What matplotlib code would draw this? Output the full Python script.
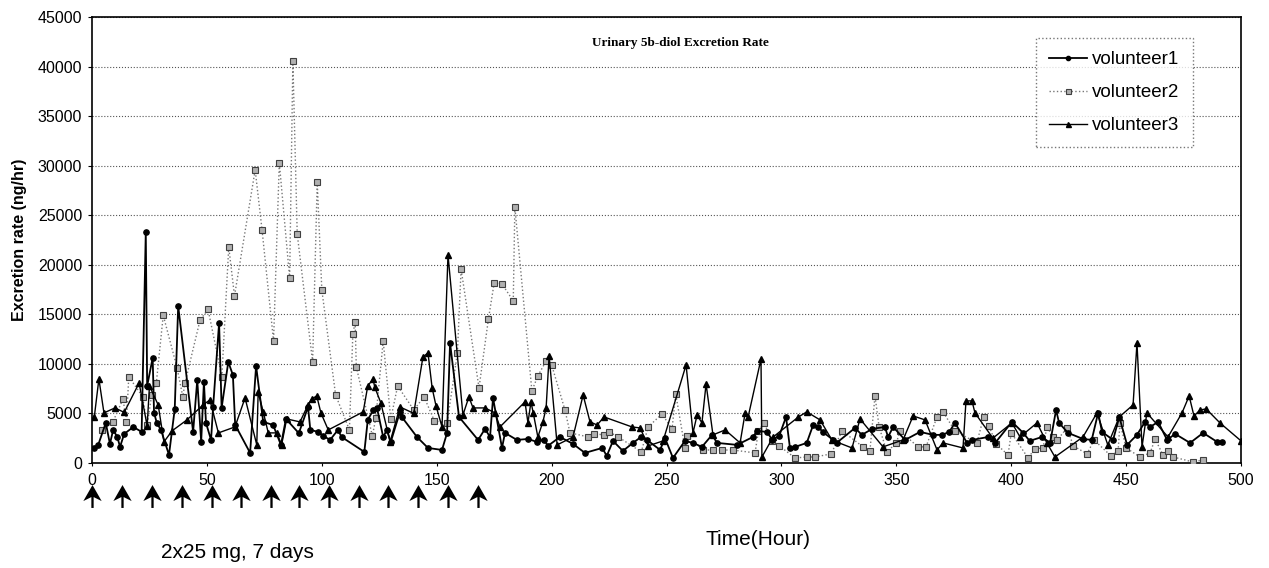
import numpy as np
import matplotlib.pyplot as plt
from matplotlib.path import Path

# volunteer 1 (filled circles, solid)
t1 = [1, 2.7, 6, 7.8, 9.2, 11, 12.2, 14, 18, 21.6, 23.4, 24, 26.4, 27, 28.2, 30, 33.5, 36, 37.5,
      44, 45.8, 47.5, 48.7, 49.6, 51.8, 52.7, 55.3, 56.4, 59.3, 61.3, 62.3, 68.8, 71.4, 74.5, 78.8,
      82.2, 84.4, 90, 94, 95, 98.5, 100.7, 103.6, 107, 108.6, 118.5, 120, 122.4, 124, 126.7, 128.3,
      130, 134, 134.8, 141.4, 146.2, 152.3, 154.5, 155.8, 159.7, 168, 171, 173.2, 174.5, 178.4,
      179.7, 184.9, 189.7, 193.6, 196.7, 198.4, 203.6, 209.3, 214.5, 222, 224, 226.7, 231, 235.4,
      238.9, 241.5, 247.2, 249.3, 252.8, 258, 261.5, 265.4, 269.8, 272, 280.7, 287.6, 289.4, 293.7,
      296, 299, 302, 303.7, 306, 311, 313.8, 316, 318, 322.5, 324, 332, 335, 339.4, 345, 346.4,
      348.6, 353.8, 360.3, 366, 369.9, 373, 375.5, 380.8, 383, 390, 393, 400.3, 405.2, 408, 413.4,
      416.9, 419.5, 420.8, 424.7, 431.2, 435, 437.8, 439.5, 444.3, 447, 450.4, 454.7, 458.2, 460.4,
      463.9, 467.8, 471.3, 477.8, 483.5, 489.6, 491.7]
v1 = [1510, 1820, 4040, 1920, 3330, 2620, 1620, 2930, 3630, 3130, 23300, 7770, 10600, 5050, 4040,
      3330, 810, 5450, 15840, 3130, 8370, 2120, 8170, 4040, 2320, 5650, 14130, 5550, 10190, 8880,
      3830, 1010, 9790, 4140, 3830, 1820, 4440, 3000, 5650, 3330, 3130, 2720, 2320, 3330, 2620,
      1110, 4340, 5350, 5550, 2620, 3330, 2120, 5150, 4640, 2620, 1510, 1310, 3030, 12110, 4640,
      2320, 3430, 2620, 6560, 1510, 3030, 2320, 2420, 2120, 2320, 1720, 2620, 1920, 1010, 1510,
      710, 2220, 1210, 2020, 2620, 2320, 1310, 2520, 500, 2220, 2020, 1620, 2830, 2020, 1820, 2620,
      3230, 3130, 2320, 2720, 4640, 1510, 1620, 2020, 3830, 3630, 3130, 2320, 2020, 3530, 2830,
      3430, 3630, 2620, 3630, 2320, 3130, 2830, 2830, 3130, 4040, 2020, 2320, 2620, 2020, 4140,
      3030, 2220, 2620, 2020, 5350, 4040, 3030, 2420, 2320, 5050, 3130, 2320, 4640, 1820, 2830,
      4140, 3630, 4140, 2320, 2930, 2020, 3030, 2120, 2120]

# volunteer 2 (grey squares, dotted)
t2 = [4.4, 9, 13.5, 15, 16, 22, 24, 26, 28, 31, 37, 39.5, 40.5, 47, 50.5, 56.5, 59.5, 62, 71, 74,
      79, 81.5, 86, 87.4, 89.3, 96, 98, 100, 106, 112, 113.5, 114.5, 115, 122, 123.5, 126.7, 130,
      133, 140, 144.5, 149, 154.5, 159, 160.6, 168.4, 172.5, 175, 178.4, 183.3, 184, 191.4, 194,
      197.6, 200, 205.8, 208, 216, 218.5, 223, 225, 229, 239, 242, 248, 252.4, 254, 258, 259, 266,
      270, 274, 279, 288.5, 290, 292.4, 296, 299, 306, 311, 314.6, 321.6, 326.4, 335.5, 338.5,
      340.7, 342.5, 345.9, 350, 351.6, 359.4, 362.9, 367.7, 370.3, 375.5, 385, 388, 390.3, 393.4,
      398.6, 400, 407.3, 410.3, 413.8, 415.5, 418.3, 420, 424.3, 427, 433, 436, 443.4, 446.5, 447.3,
      450, 456, 460.4, 462.6, 466, 468, 470.4, 479, 483.5]
v2 = [3330, 4100, 6450, 4150, 8700, 6700, 3800, 6900, 8100, 14900, 9600, 6700, 8100, 14400, 15500,
      8700, 21800, 16850, 29570, 23500, 12300, 30300, 18650, 40560, 23100, 10200, 28350, 17460,
      6860, 3330, 13000, 14230, 9690, 2720, 4540, 12310, 4440, 7770, 5350, 6660, 4240, 4040, 11100,
      19570, 7570, 14530, 18160, 18060, 16350, 25830, 7270, 8780, 10290, 9890, 5350, 3030, 2620,
      2930, 2830, 3130, 2620, 1110, 3630, 4940, 3430, 6960, 1510, 2720, 1310, 1300, 1300, 1300,
      1010, 3230, 4040, 2220, 1720, 500, 600, 600, 910, 3230, 1620, 1210, 6760, 3630, 1110, 2020,
      3230, 1620, 1620, 4640, 5150, 3230, 2020, 4640, 3730, 1920, 810, 3030, 500, 1410, 1510, 3630,
      2620, 2320, 3530, 1720, 910, 2320, 710, 1210, 4040, 1510, 600, 1010, 2420, 810, 1210, 600,
      100, 300]

# volunteer 3 (triangles, solid)
t3 = [1, 3, 5.2, 10, 14, 20.5, 24, 25, 28.8, 31.3, 34.8, 41.3, 48.3, 51.3, 55, 62.2, 66.6, 71.7,
      72.3, 74.5, 76.7, 80.4, 82.5, 84.7, 90.5, 94, 95.6, 97.8, 99.6, 102.8, 118, 120, 122.3, 123,
      125.7, 129.7, 134, 140, 144, 146.2, 148, 149.7, 152.3, 154.9, 161.4, 164, 165.8, 171, 175.4,
      177.5, 188.4, 189.7, 191, 192, 194, 196.2, 197.6, 198.9, 202.4, 209.3, 213.7, 216.7, 219.8,
      222.8, 235, 238.5, 242, 248.5, 258.5, 261.5, 263.3, 265.4, 267.2, 270.2, 275.5, 282, 284.2,
      285.5, 291.1, 291.5, 296.4, 307.4, 311, 316.8, 322, 330.7, 334.2, 344.2, 352.9, 357.3, 362.5,
      367.7, 370.3, 379, 380.3, 382.9, 384.2, 392, 400.3, 403.8, 411.2, 415.5, 419, 431.2, 437.3,
      442, 447, 453, 454.7, 456.9, 459, 468.2, 474.3, 477.4, 479.5, 482.2, 484.8, 490.8, 500]
v3 = [4640, 8480, 5050, 5550, 5100, 8070, 3730, 7770, 5850, 2120, 3230, 4340, 5850, 6360, 3030,
      3630, 6560, 1820, 7160, 5150, 3030, 3030, 1820, 4440, 4140, 5850, 6460, 6760, 5050, 3330,
      5150, 7770, 8480, 7670, 6050, 2120, 5650, 5000, 10700, 11100, 7570, 5750, 3630, 20990, 4840,
      6660, 5550, 5550, 5050, 3630, 6160, 4040, 6160, 5050, 2620, 4140, 5550, 10800, 1820, 2620,
      6860, 4140, 3830, 4640, 3630, 3530, 1720, 2220, 9890, 3030, 4840, 4040, 7970, 2830, 3330,
      2020, 5050, 4640, 10490, 600, 2620, 4640, 5150, 4340, 2300, 1510, 4440, 1620, 2320, 4740,
      4340, 1310, 2020, 1510, 6260, 6260, 5050, 2500, 4040, 2620, 4040, 2020, 600, 2620, 5050,
      1820, 4640, 5850, 12110, 1620, 5050, 2620, 5050, 6760, 4740, 5350, 5450, 4040, 2220]

doses = [0, 13, 26, 39, 52, 65, 78, 90, 103, 116, 129, 142, 155, 168]

plt.rcParams['font.family'] = ['Liberation Sans', 'DejaVu Sans']

fig = plt.figure(figsize=(12.69, 5.68), dpi=100)
ax = fig.add_axes([0.0725, 0.185, 0.9055, 0.785])

ax.plot(t2, v2, color='#777777', ls=':', lw=1.0, marker='s', ms=4.5,
        mfc='#b0b0b0', mec='#404040', mew=0.8, label='volunteer2', zorder=3)
ax.plot(t3, v3, color='black', lw=1.0, marker='^', ms=4.5, label='volunteer3', zorder=4)
ax.plot(t1, v1, color='black', lw=1.3, marker='o', ms=3.8, label='volunteer1', zorder=5)

ax.set_xlim(0, 500)
ax.set_ylim(0, 45000)
ax.set_xticks(np.arange(0, 501, 50))
ax.set_yticks(np.arange(0, 45001, 5000))
ax.tick_params(axis='x', length=2, pad=5, labelsize=11.5)
ax.tick_params(axis='y', length=3, pad=4, labelsize=11.5)
ax.yaxis.grid(True, ls=':', color='#555555', lw=0.8)
ax.set_axisbelow(True)
for s in ax.spines.values():
    s.set_linewidth(1.2)

ax.set_ylabel('Excretion rate (ng/hr)', fontsize=11.5, fontweight='bold', labelpad=8)

ax.text(256, 42400, 'Urinary 5b-diol Excretion Rate', family='Liberation Serif',
        fontweight='bold', fontsize=9.5, ha='center', va='center')

h, l = ax.get_legend_handles_labels()
order = [2, 0, 1]
leg = ax.legend([h[i] for i in order], [l[i] for i in order], loc='upper left',
                bbox_to_anchor=(0.8216, 0.953), borderaxespad=0, fancybox=False,
                fontsize=13.5, labelspacing=0.85, handlelength=2.0, handletextpad=0.3,
                borderpad=0.7, markerscale=0.8)
leg.get_frame().set_edgecolor('#555555')
leg.get_frame().set_linestyle(':')
leg.get_frame().set_linewidth(1.0)

# dose arrows under the axis: filled concave head with thin stem
arrow = Path([(0, 1), (0.8, -0.4), (0.1, -0.05), (0.1, -1), (-0.1, -1),
              (-0.1, -0.05), (-0.8, -0.4), (0, 1)],
             [Path.MOVETO] + [Path.LINETO] * 6 + [Path.CLOSEPOLY])
trans = ax.get_xaxis_transform()
ax.plot(doses, [-0.075] * len(doses), transform=trans, ls='none', marker=arrow,
        ms=16.5, color='black', mew=0, clip_on=False)

ax.text(63.5, -0.2, '2x25 mg, 7 days', transform=trans, fontsize=15, ha='center', va='center')
ax.text(290, -0.172, 'Time(Hour)', transform=trans, fontsize=15, ha='center', va='center')

fig.savefig('out.png', dpi=100)
